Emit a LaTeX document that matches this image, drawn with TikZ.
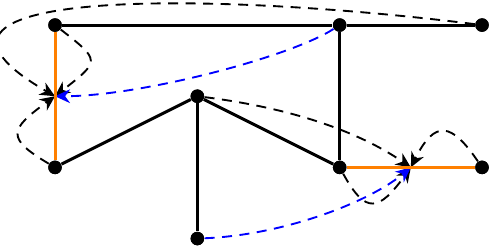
\documentclass[tikz,border=0pt]{standalone}
\usepackage{tikz}
\usetikzlibrary{arrows.meta, calc}

\tikzset{
    vtx/.style={circle, fill=black, inner sep=0pt, minimum size=0.19cm},
    edge/.style={line width=1.2pt},
    oedge/.style={line width=1.2pt, orange},
    dep/.style={line width=0.75pt, dash pattern=on 4pt off 3pt, -{Stealth[length=6pt, width=5.5pt]}},
    bdep/.style={dep, blue}
}

\begin{document}
\begin{tikzpicture}
    \useasboundingbox (-0.773,0.873) rectangle (6.112,4.352);
    % Knoten
    \node[vtx] (a) at (0,4) {};
    \node[vtx] (b) at (4,4) {};
    \node[vtx] (c) at (6,4) {};
    \node[vtx] (e) at (2,3) {};
    \node[vtx] (d) at (0,2) {};
    \node[vtx] (f) at (4,2) {};
    \node[vtx] (g) at (6,2) {};
    \node[vtx] (h) at (2,1) {};
    \coordinate (m1) at ($(a)!0.5!(d)$);
    \coordinate (m2) at ($(f)!0.5!(g)$);
    % Abhaengigkeiten
    \draw[dep] (c) .. controls (2,4.5) and (-2.6,4.5) .. (m1);
    \draw[dep] (a) .. controls (0.64,3.5) and (0.64,3.5) .. (m1);
    \draw[dep] (d) .. controls (-0.69,2.41) and (-0.65,2.53) .. (m1);
    \draw[bdep] (b) .. controls (3.3,3.55) and (1.2,3.0) .. (m1);
    \draw[dep] (e) .. controls (3.2,2.85) and (4.2,2.55) .. (m2);
    \draw[dep] (g) .. controls (5.57,2.63) and (5.34,2.68) .. (m2);
    \draw[dep] (f) .. controls (4.37,1.33) and (4.55,1.38) .. (m2);
    \draw[bdep] (h) .. controls (3.2,1.05) and (4.4,1.5) .. (m2);
    % Kanten
    \draw[edge] (a) -- (b) -- (c);
    \draw[edge] (b) -- (f);
    \draw[edge] (d) -- (e) -- (f);
    \draw[edge] (e) -- (h);
    \draw[oedge] (a) -- (d);
    \draw[oedge] (f) -- (g);
    \foreach \n in {a,b,c,d,e,f,g,h}{
        \node[vtx] at (\n) {};
    }
\end{tikzpicture}
\end{document}
